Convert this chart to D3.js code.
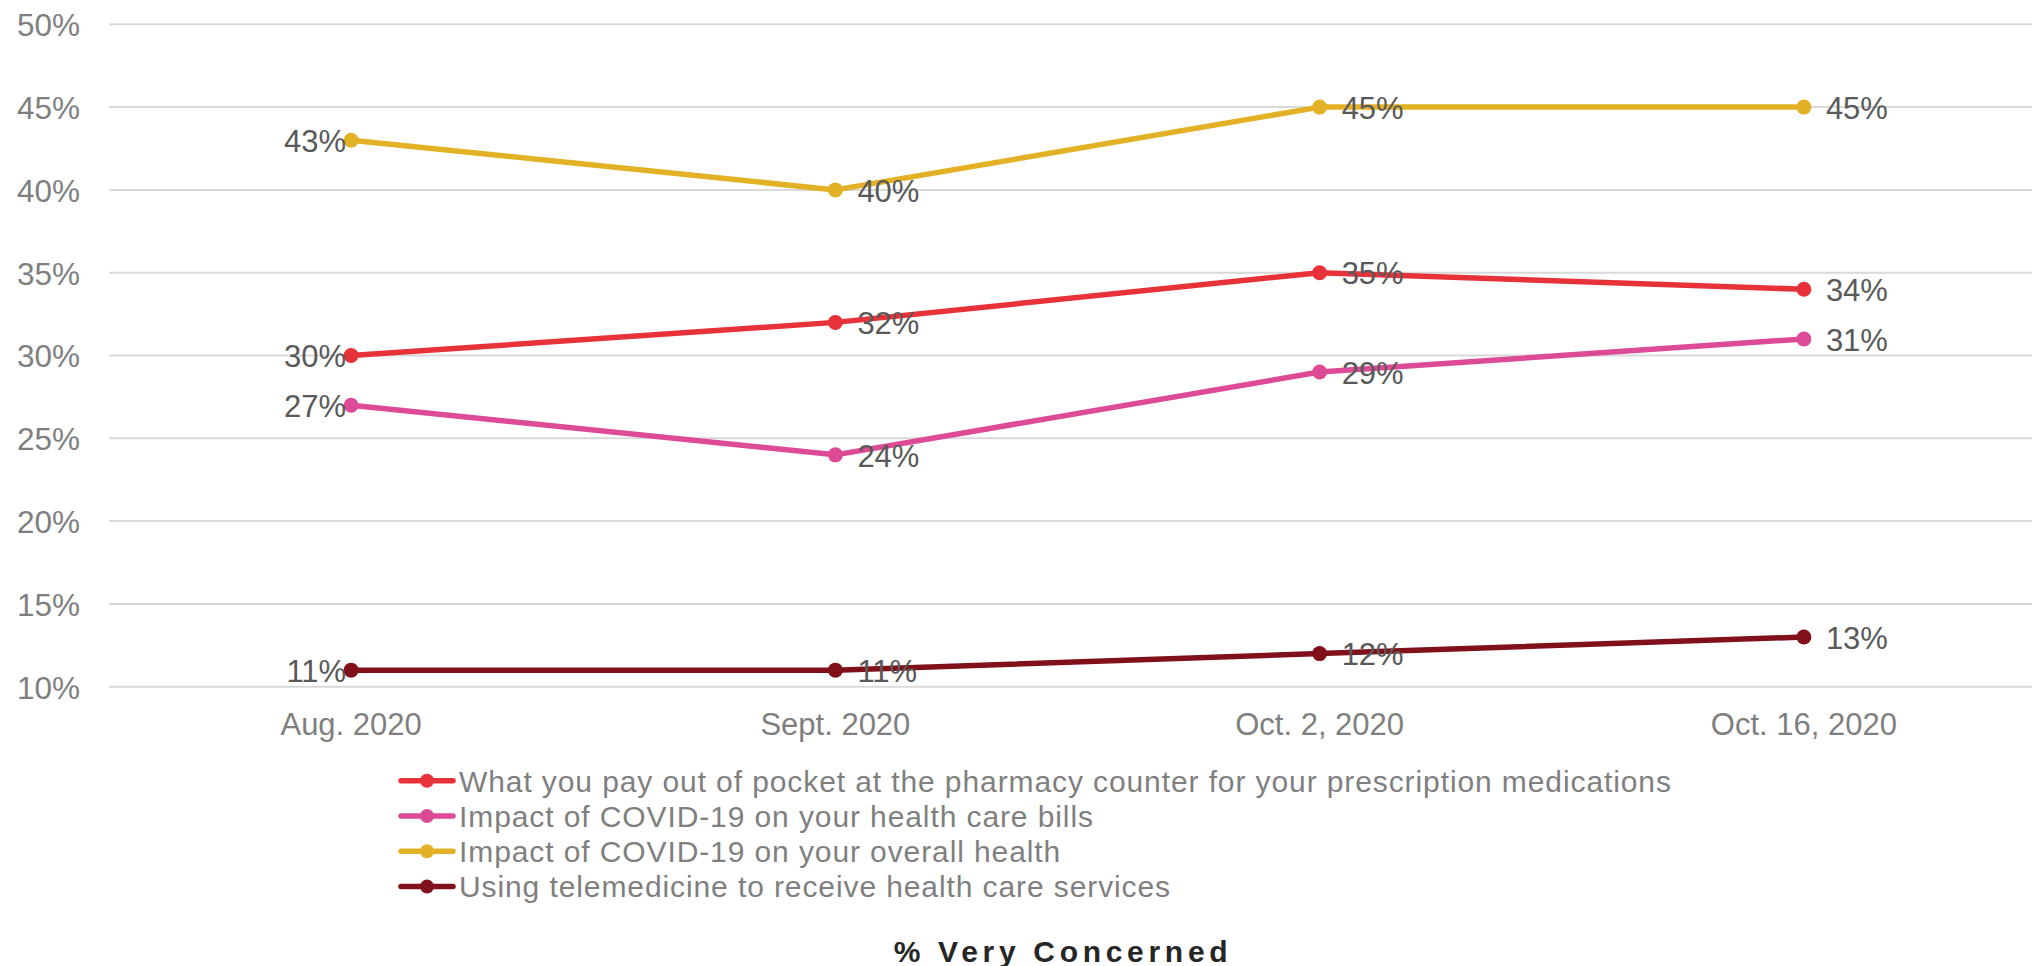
<!DOCTYPE html>
<html>
<head>
<meta charset="utf-8">
<script src="https://cdn.jsdelivr.net/npm/d3@7"></script>
<style>
  html, body { margin: 0; padding: 0; background: #fff; }
  svg { display: block; }
  text { font-family: "Liberation Sans", Arial, sans-serif; }
</style>
</head>
<body>
<svg id="chart" width="2032" height="966"></svg>
<script>
// ---- Data ----
const categories = ["Aug. 2020", "Sept. 2020", "Oct. 2, 2020", "Oct. 16, 2020"];
const seriesNames = [
  "What you pay out of pocket at the pharmacy counter for your prescription medications",
  "Impact of COVID-19 on your health care bills",
  "Impact of COVID-19 on your overall health",
  "Using telemedicine to receive health care services"
];
const pharmacyValues = [30, 32, 35, 34];
const billsValues = [27, 24, 29, 31];
const overallHealthValues = [43, 40, 45, 45];
const telemedicineValues = [11, 11, 12, 13];
const seriesColors = ["#E8323A", "#DD4A96", "#E3B126", "#80111A"];
const yTicks = [10, 15, 20, 25, 30, 35, 40, 45, 50];
const title = "% Very Concerned";

const series = [pharmacyValues, billsValues, overallHealthValues, telemedicineValues]
  .map((vals, i) => ({ name: seriesNames[i], color: seriesColors[i], values: vals }));

// ---- Layout ----
const svg = d3.select("#chart");
const plotLeft = 109, plotRight = 2046;
const yTop = 24.3, yBottom = 686.7;

const x = d3.scaleBand().domain(categories).range([plotLeft, plotRight]).padding(0);
const xc = c => x(c) + x.bandwidth() / 2;
const y = d3.scaleLinear().domain([10, 50]).range([yBottom, yTop]);

// gridlines
svg.append("g").selectAll("line").data(yTicks).join("line")
  .attr("x1", plotLeft).attr("x2", 2032)
  .attr("y1", d => y(d)).attr("y2", d => y(d))
  .attr("stroke", "#D9D9D9").attr("stroke-width", 2);

// y axis labels
const yAxis = d3.axisLeft(y).tickValues(yTicks).tickFormat(d => d + "%").tickSize(0).tickPadding(0);
const yg = svg.append("g").attr("transform", "translate(80,0)").call(yAxis);
yg.select(".domain").remove();
yg.selectAll("text")
  .attr("font-size", 31.5).attr("fill", "#7F7F7F")
  .attr("font-family", "'Liberation Sans', Arial, sans-serif")
  .attr("dy", "0.36em");

// x axis labels
const xAxis = d3.axisBottom(x).tickSize(0).tickPadding(0);
const xg = svg.append("g").attr("transform", "translate(0,735)").call(xAxis);
xg.select(".domain").remove();
xg.selectAll("text")
  .attr("font-size", 31).attr("fill", "#7F7F7F")
  .attr("font-family", "'Liberation Sans', Arial, sans-serif")
  .attr("dy", 0).attr("y", 0);

// lines
const line = d3.line().x((d, i) => xc(categories[i])).y(d => y(d));
const sg = svg.append("g").selectAll("g").data(series).join("g");
sg.append("path")
  .attr("d", d => line(d.values))
  .attr("fill", "none").attr("stroke", d => d.color)
  .attr("stroke-width", 5.5).attr("stroke-linejoin", "round").attr("stroke-linecap", "round");
sg.selectAll("circle").data(d => d.values.map(v => ({ v, color: d.color }))).join("circle")
  .attr("cx", (d, i) => xc(categories[i])).attr("cy", d => y(d.v))
  .attr("r", 7.5).attr("fill", d => d.color);

// data labels
const lg = svg.append("g");
series.forEach(s => {
  s.values.forEach((v, i) => {
    const first = i === 0;
    lg.append("text")
      .attr("x", xc(categories[i]) + (first ? -5 : 22))
      .attr("y", y(v))
      .attr("dy", "0.38em")
      .attr("text-anchor", first ? "end" : "start")
      .attr("font-size", 31).attr("fill", "#595959")
      .text(v + "%");
  });
});

// legend
const legend = svg.append("g");
const legY0 = 780.7, legStep = 35.3;
series.forEach((s, i) => {
  const ly = legY0 + i * legStep;
  legend.append("line").attr("x1", 401).attr("x2", 453).attr("y1", ly).attr("y2", ly)
    .attr("stroke", s.color).attr("stroke-width", 5.5).attr("stroke-linecap", "round");
  legend.append("circle").attr("cx", 427).attr("cy", ly).attr("r", 7).attr("fill", s.color);
  legend.append("text").attr("x", 459).attr("y", ly).attr("dy", "0.36em")
    .attr("font-size", 30).attr("letter-spacing", "0.9px").attr("fill", "#7F7F7F")
    .text(s.name);
});

// title
svg.append("text")
  .attr("x", 1063).attr("y", 961.5)
  .attr("text-anchor", "middle")
  .attr("font-size", 30).attr("font-weight", "bold")
  .attr("letter-spacing", "4.7px").attr("fill", "#262626")
  .text(title);
</script>
</body>
</html>
